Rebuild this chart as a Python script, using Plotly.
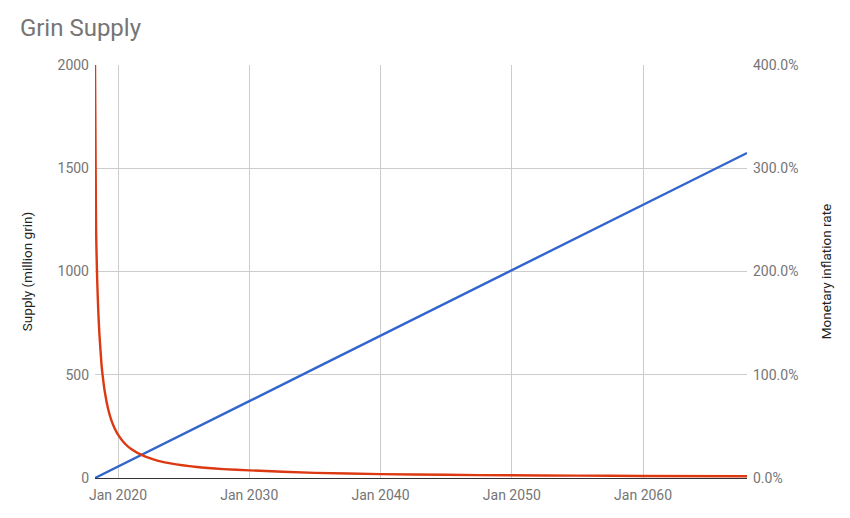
import plotly.graph_objects as go

# supply (million grin)
supply_dates = ["2018-04-01", "2020-01-01", "2025-01-01", "2030-01-01", "2035-01-01",
                "2040-01-01", "2045-01-01", "2050-01-01", "2055-01-01", "2060-01-01",
                "2065-01-01", "2067-12-01"]
supply = [0, 55, 214, 372, 531, 689, 848, 1006, 1165, 1323, 1482, 1574]

# monetary inflation rate (fraction)
infl_dates = ["2018-04-01", "2018-04-20", "2018-05-01", "2018-06-01", "2018-07-01",
              "2018-08-01", "2018-10-01", "2018-11-01", "2019-01-01", "2019-04-01",
              "2019-07-01", "2019-10-01", "2020-01-01", "2020-07-01", "2021-01-01",
              "2022-01-01", "2023-01-01", "2024-01-01", "2026-01-01", "2028-01-01",
              "2030-01-01", "2035-01-01", "2040-01-01", "2045-01-01", "2050-01-01",
              "2055-01-01", "2060-01-01", "2067-12-01"]
inflation = [4.00, 2.95, 2.40, 1.92, 1.62, 1.40, 1.09, 0.99, 0.83, 0.668,
             0.558, 0.479, 0.42, 0.337, 0.281, 0.211, 0.169, 0.141, 0.106, 0.086,
             0.074, 0.05, 0.038, 0.031, 0.026, 0.023, 0.020, 0.017]

xticks = ["2020-01-01", "2030-01-01", "2040-01-01", "2050-01-01", "2060-01-01"]
xlabels = ["Jan 2020", "Jan 2030", "Jan 2040", "Jan 2050", "Jan 2060"]

fig = go.Figure()
fig.add_trace(go.Scatter(x=supply_dates, y=supply, mode="lines", name="Supply",
                         line=dict(color="#3366cc", width=2.4)))
fig.add_trace(go.Scatter(x=infl_dates, y=inflation, mode="lines", name="Inflation",
                         line=dict(color="#dc3912", width=2.4, shape="spline", smoothing=0.6),
                         yaxis="y2"))

# page body has an 8px margin, so the margins below are shifted for it
tickfont = dict(family="Roboto", size=14, color="#757575")
titlefont = dict(family="Roboto", size=13.5, color="#222222")
fig.update_layout(
    width=850, height=518,
    margin=dict(l=87, r=111, t=57, b=48),
    paper_bgcolor="white", plot_bgcolor="white",
    showlegend=False,
    font=dict(family="Roboto"),
    title=dict(text="Grin Supply", x=0.014, xanchor="left", y=0.963, yanchor="middle",
               font=dict(family="Roboto", size=24, color="#757575")),
    xaxis=dict(range=["2018-04-01", "2067-12-01"], tickvals=xticks, ticktext=xlabels,
               showgrid=True, gridcolor="#cccccc", tickfont=tickfont, ticklabelstandoff=4,
               showline=True, linecolor="#333333", linewidth=1, ticks=""),
    yaxis=dict(range=[0, 2000], dtick=500, showgrid=True, gridcolor="#cccccc",
               zeroline=False, tickfont=tickfont, ticks="", ticklabelstandoff=5,
               title=dict(text="Supply (million grin)", standoff=21, font=titlefont)),
    yaxis2=dict(range=[0, 4], dtick=1, tickformat=".1%", overlaying="y", side="right",
                showgrid=False, zeroline=False, tickfont=tickfont, ticks="",
                ticklabelstandoff=5,
                title=dict(text="Monetary inflation rate", standoff=24, font=titlefont)),
)

fig.write_html("out.html")
